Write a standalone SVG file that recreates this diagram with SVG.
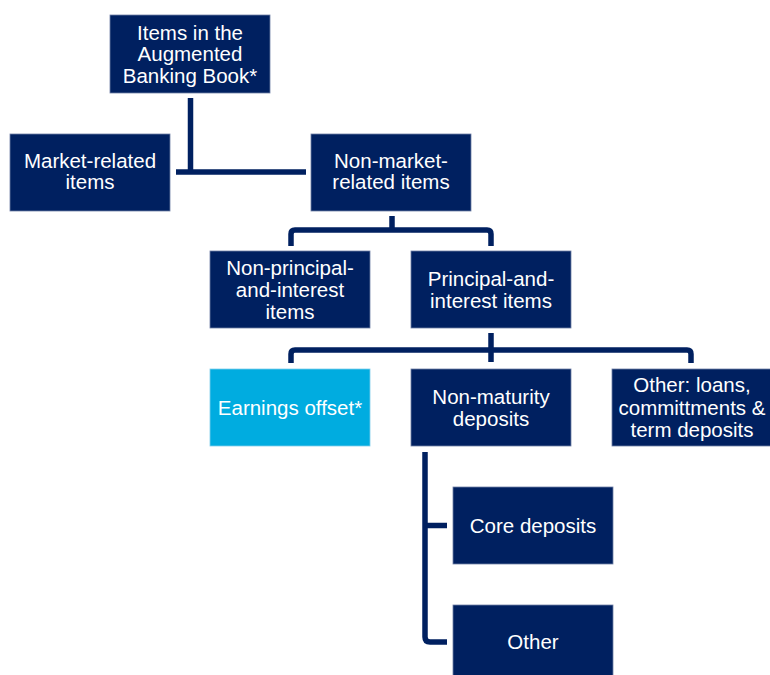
<svg xmlns="http://www.w3.org/2000/svg" width="770" height="675" viewBox="0 0 770 675">
<style>
.box{fill:#002060;stroke:#6f7fa6;stroke-width:0.8}
.light{fill:#00ace0;stroke:#7fcdea;stroke-width:0.8}
.t{font-family:"Liberation Sans",Arial,sans-serif;font-size:20.5px;fill:#ffffff;text-anchor:middle}
.c{fill:none;stroke:#002060;stroke-width:5.5;stroke-linejoin:round}
</style>
<rect width="770" height="675" fill="#ffffff"/>
<g id="connectors">
<path class="c" d="M190.5 98 V172 M176 172 H306"/>
<path class="c" d="M392 216 V230 M291 246 V234 Q291 230 295 230 H487 Q491 230 491 234 V246"/>
<path class="c" d="M491 333 V362 M291 363 V354 Q291 350 295 350 H687 Q691 350 691 354 V363"/>
<path class="c" d="M425 452 V637 Q425 642 430 642 H447 M425 525.5 H447"/>
</g>
<g id="n_root"><rect class="box" x="110" y="15" width="160" height="78"/>
<text class="t" x="190" y="39.5">Items in the</text><text class="t" x="190" y="61">Augmented</text><text class="t" x="190" y="82.7">Banking Book*</text></g>
<g id="n_market"><rect class="box" x="10" y="134" width="160" height="77"/>
<text class="t" x="90" y="167.7">Market-related</text><text class="t" x="90" y="189.3">items</text></g>
<g id="n_nonmarket"><rect class="box" x="311" y="134" width="160" height="77"/>
<text class="t" x="391" y="167.7">Non-market-</text><text class="t" x="391" y="189.3">related items</text></g>
<g id="n_nonpi"><rect class="box" x="210" y="251" width="160" height="77"/>
<text class="t" x="290" y="275">Non-principal-</text><text class="t" x="290" y="297">and-interest</text><text class="t" x="290" y="319">items</text></g>
<g id="n_pi"><rect class="box" x="411" y="251" width="160" height="77"/>
<text class="t" x="491" y="286">Principal-and-</text><text class="t" x="491" y="308">interest items</text></g>
<g id="n_earn"><rect class="light" x="210" y="369" width="160" height="77"/>
<text class="t" x="290" y="415">Earnings offset*</text></g>
<g id="n_nmd"><rect class="box" x="411" y="369" width="160" height="77"/>
<text class="t" x="491" y="404">Non-maturity</text><text class="t" x="491" y="426">deposits</text></g>
<g id="n_otherloans"><rect class="box" x="612" y="369" width="160" height="77"/>
<text class="t" x="692" y="392">Other: loans,</text><text class="t" x="692" y="415">committments &amp;</text><text class="t" x="692" y="437">term deposits</text></g>
<g id="n_core"><rect class="box" x="453" y="487" width="160" height="77"/>
<text class="t" x="533" y="532.5">Core deposits</text></g>
<g id="n_other"><rect class="box" x="453" y="605" width="160" height="77"/>
<text class="t" x="533" y="649">Other</text></g>
</svg>
